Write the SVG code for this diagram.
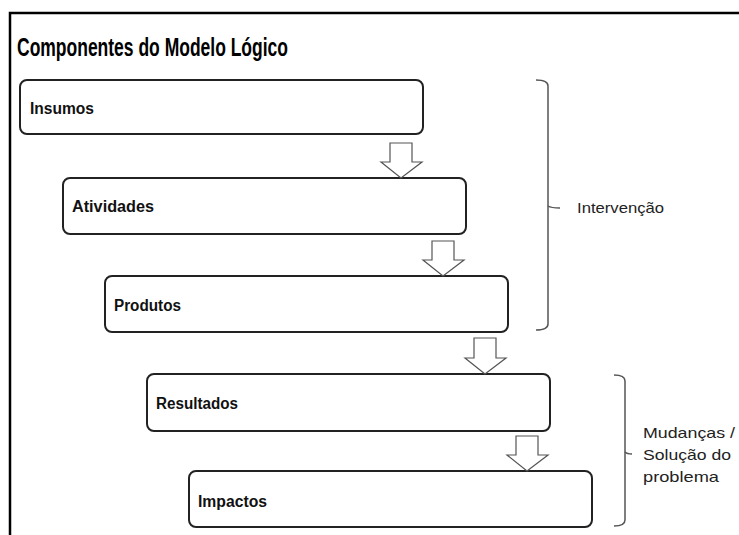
<svg xmlns="http://www.w3.org/2000/svg" width="739" height="535" viewBox="0 0 739 535">
<style>
.frame{fill:none;stroke:#000;stroke-width:2.5}
.box{fill:#fff;stroke:#222;stroke-width:2}
.lbl{font-family:"Liberation Sans",Arial,sans-serif;font-weight:bold;font-size:16px;fill:#111}
.arrow{fill:#fff;stroke:#555;stroke-width:1.2;stroke-linejoin:miter}
.brace{fill:none;stroke:#555;stroke-width:1.5}
.note{font-family:"Liberation Sans",Arial,sans-serif;font-size:15px;fill:#222}
.title{font-family:"Liberation Sans",Arial,sans-serif;font-weight:bold;font-size:26px;fill:#000}
</style>
<rect width="739" height="535" fill="#fff"/>
<path class="frame" d="M10,535 V13 H739"/>
<text class="title" x="17" y="56" textLength="271" lengthAdjust="spacingAndGlyphs">Componentes do Modelo Lógico</text>

<g id="insumos">
<rect class="box" x="20" y="80" width="403" height="54" rx="7"/>
<text class="lbl" x="30" y="114" textLength="64" lengthAdjust="spacingAndGlyphs">Insumos</text>
</g>
<g id="atividades">
<rect class="box" x="63" y="178" width="403" height="56" rx="7"/>
<text class="lbl" x="72" y="212" textLength="82" lengthAdjust="spacingAndGlyphs">Atividades</text>
</g>
<g id="produtos">
<rect class="box" x="105" y="276" width="403" height="56" rx="7"/>
<text class="lbl" x="114" y="311" textLength="67" lengthAdjust="spacingAndGlyphs">Produtos</text>
</g>
<g id="resultados">
<rect class="box" x="147" y="374" width="403" height="57" rx="7"/>
<text class="lbl" x="156" y="409" textLength="82" lengthAdjust="spacingAndGlyphs">Resultados</text>
</g>
<g id="impactos">
<rect class="box" x="189" y="471" width="403" height="56" rx="7"/>
<text class="lbl" x="198" y="507" textLength="69" lengthAdjust="spacingAndGlyphs">Impactos</text>
</g>

<g id="connectors">
<polygon class="arrow" points="390,143 412,143 412,162 422,162 401,178 381,162 390,162"/>
<polygon class="arrow" points="432,241 454,241 454,260 464,260 443,276 423,260 432,260"/>
<polygon class="arrow" points="474,338 496,338 496,358 506,358 485,374 465,358 474,358"/>
<polygon class="arrow" points="516,436 538,436 538,455 548,455 527,471 507,455 516,455"/>
</g>

<g id="intervencao">
<path class="brace" d="M536,80 Q548,80 548,86 V324 Q548,330 536,330"/>
<path class="brace" d="M548,206 Q551,208 560,208"/>
<text class="note" x="577" y="213" textLength="87" lengthAdjust="spacingAndGlyphs">Intervenção</text>
</g>
<g id="mudancas">
<path class="brace" d="M614,375 Q625,375 625,381 V520 Q625,526 614,526"/>
<path class="brace" d="M625,452 Q627,454 632,454"/>
<text class="note" x="643" y="438" textLength="92" lengthAdjust="spacingAndGlyphs">Mudanças /</text>
<text class="note" x="643" y="460" textLength="88" lengthAdjust="spacingAndGlyphs">Solução do</text>
<text class="note" x="643" y="482" textLength="76" lengthAdjust="spacingAndGlyphs">problema</text>
</g>
</svg>
